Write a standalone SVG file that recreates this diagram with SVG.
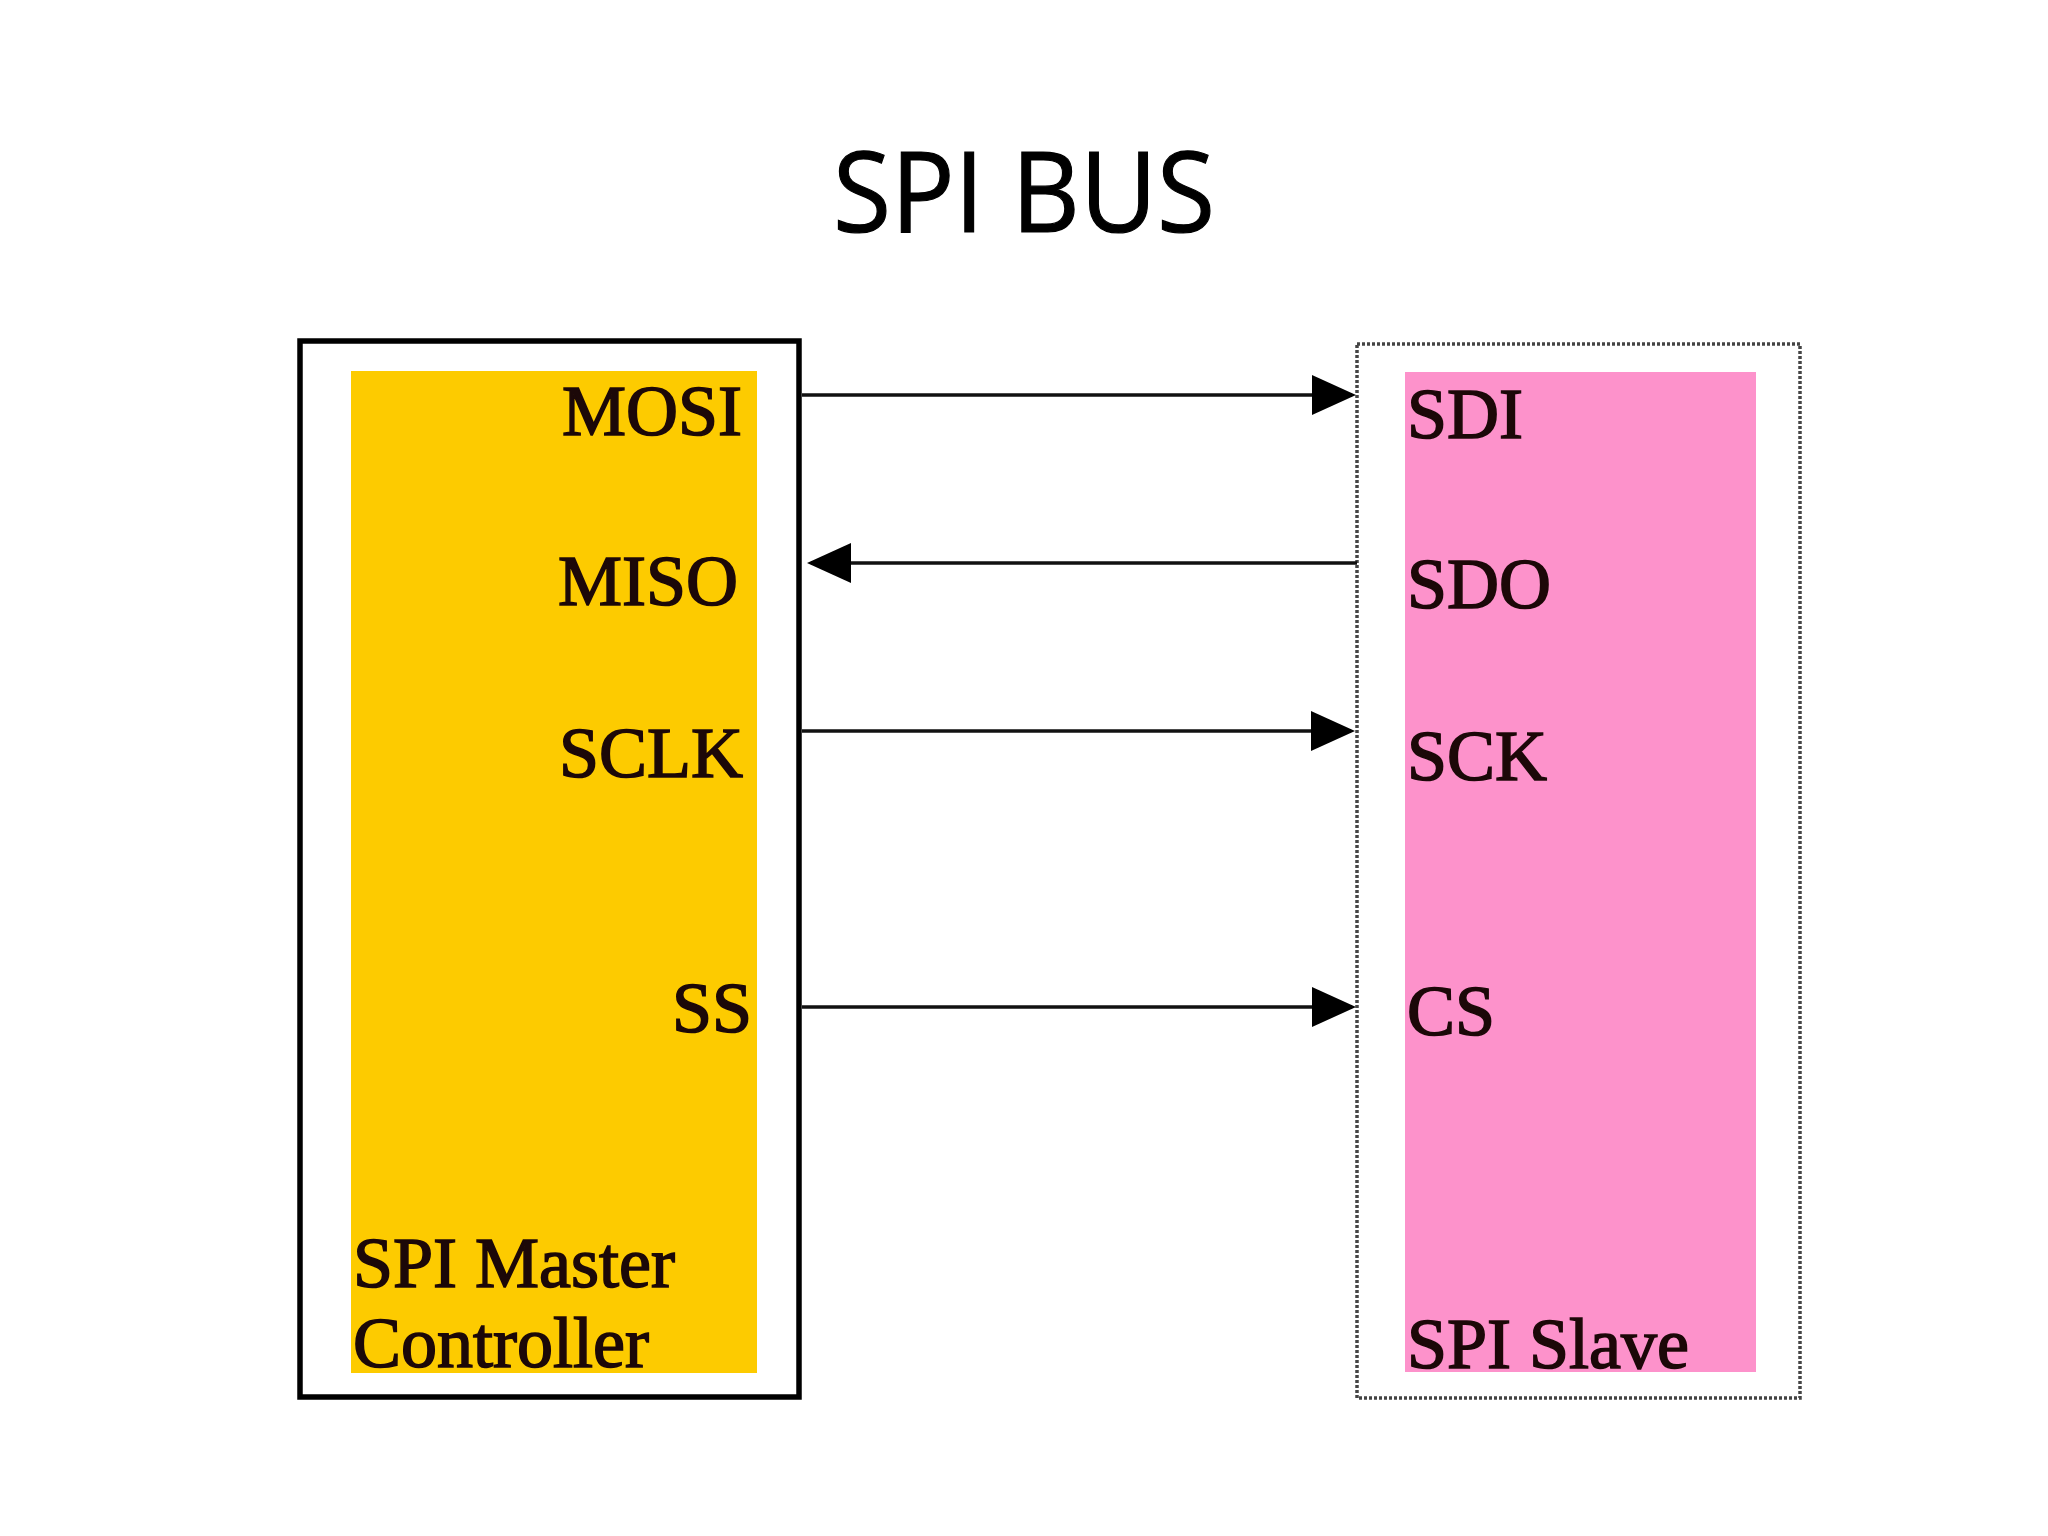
<svg xmlns="http://www.w3.org/2000/svg" width="2048" height="1536" viewBox="0 0 2048 1536">
<style>
.lbl{font-family:"Liberation Serif","Times New Roman",serif;font-size:72px;fill:#1c0808;stroke:#1c0808;stroke-width:1.6px}
.title{font-family:"Open Sans","Noto Sans",sans-serif;font-size:112px;fill:#000;stroke:#000;stroke-width:1.2px}
.wire{stroke:#111;stroke-width:3.5;fill:none}
</style>
<defs>
<marker id="ah" markerUnits="userSpaceOnUse" markerWidth="44" markerHeight="40" refX="40" refY="20" orient="auto">
<path d="M0,0 L44,20 L0,40 Z" fill="#000"/>
</marker>
</defs>
<rect width="2048" height="1536" fill="#fff"/>
<text class="title" x="833" y="232" textLength="382" lengthAdjust="spacingAndGlyphs">SPI BUS</text>
<g id="master">
<rect x="300" y="341" width="499" height="1056" fill="#fff" stroke="#000" stroke-width="5.5"/>
<rect x="351" y="371" width="406" height="1002" fill="#FDCB00"/>
<text class="lbl" x="742" y="435" text-anchor="end">MOSI</text>
<text class="lbl" x="738" y="605" text-anchor="end">MISO</text>
<text class="lbl" x="743" y="777" text-anchor="end">SCLK</text>
<text class="lbl" x="752" y="1032" text-anchor="end">SS</text>
<text class="lbl" x="353" y="1287">SPI Master</text>
<text class="lbl" x="353" y="1367">Controller</text>
</g>
<g id="slave">
<rect x="1357" y="344" width="443" height="1054" fill="#fff" stroke="#444" stroke-width="3.5" stroke-dasharray="3 2"/>
<rect x="1405" y="372" width="351" height="1000" fill="#FD92CB"/>
<text class="lbl" x="1407" y="438">SDI</text>
<text class="lbl" x="1407" y="608">SDO</text>
<text class="lbl" x="1407" y="780">SCK</text>
<text class="lbl" x="1407" y="1035">CS</text>
<text class="lbl" x="1407" y="1368">SPI Slave</text>
</g>
<g id="connectors">
<line class="wire" x1="802" y1="395" x2="1352" y2="395" marker-end="url(#ah)"/>
<line class="wire" x1="1357" y1="563" x2="811" y2="563" marker-end="url(#ah)"/>
<line class="wire" x1="802" y1="731" x2="1351" y2="731" marker-end="url(#ah)"/>
<line class="wire" x1="802" y1="1007" x2="1352" y2="1007" marker-end="url(#ah)"/>
</g>
</svg>
